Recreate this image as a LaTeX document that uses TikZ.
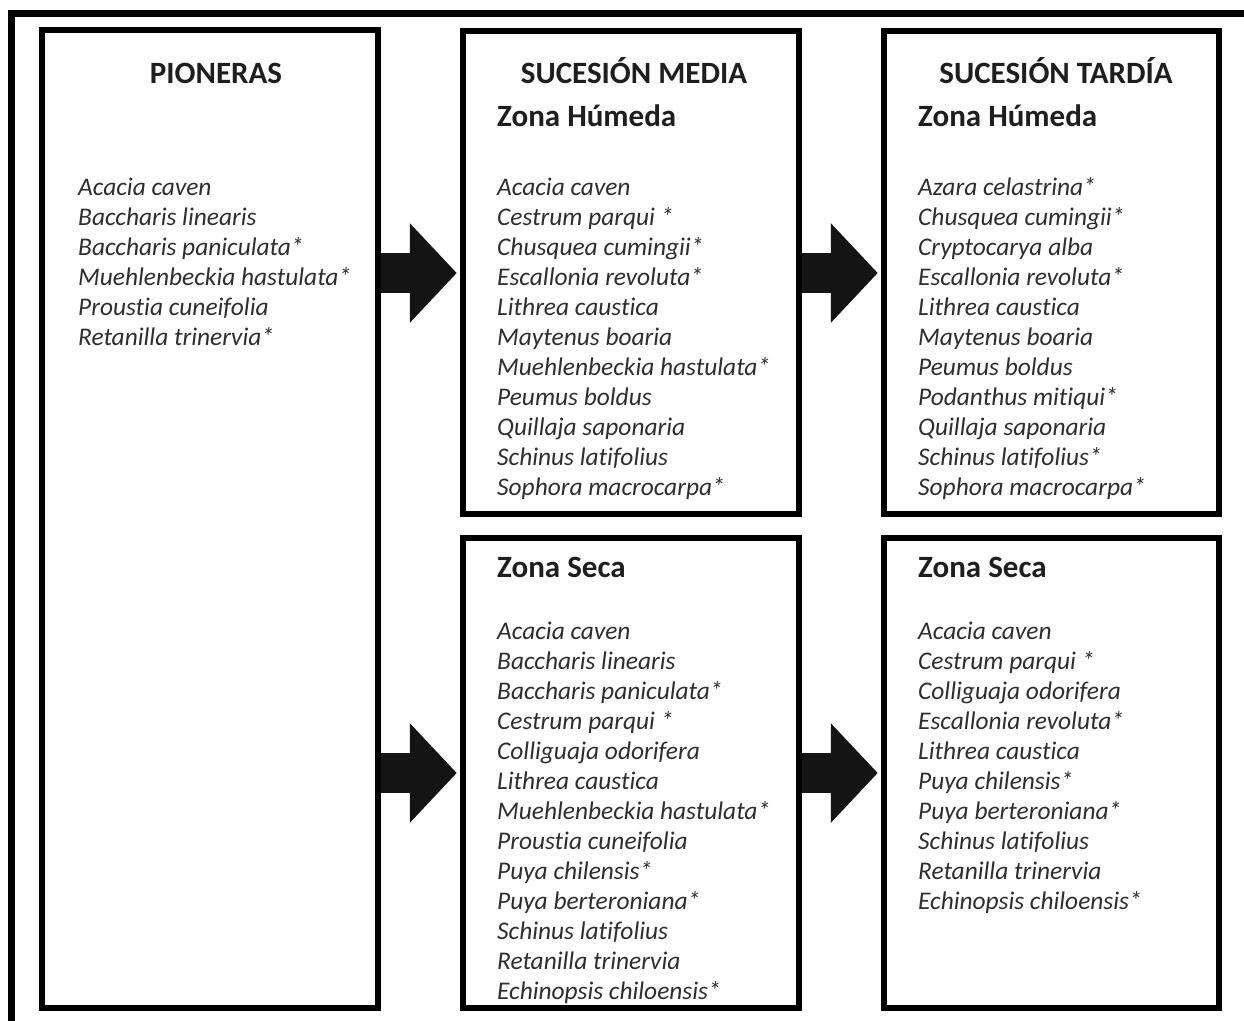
\documentclass[tikz,border=0pt]{standalone}
\usepackage{fontspec}
\setmainfont{Carlito}[Ligatures=NoCommon]
\usetikzlibrary{arrows.meta}
\definecolor{inktext}{HTML}{2E2E2E}
\definecolor{inktitle}{HTML}{1E1E1E}
\tikzset{
  box/.style={draw=black, line width=6.5bp, inner sep=0pt, fill=white},
  bigarrow/.style={line width=40bp, -{Triangle[width=97bp,length=47bp]}, draw=black!92, shorten >=3bp},
  titletext/.style={inner sep=0pt, text=inktitle, font=\bfseries\fontsize{31bp}{36bp}\selectfont},
  listtext/.style={inner sep=0pt, anchor=base west, text=inktext, font=\itshape\fontsize{25.4bp}{30bp}\selectfont}
}
\begin{document}
\begin{tikzpicture}[x=1bp,y=-1bp]
\useasboundingbox (0,0) rectangle (1244,1021);
\fill[white] (0,0) rectangle (1244,1021);
% outer frame (only top and left visible)
\draw[line width=7bp] (1244,13) -- (11.5,13) -- (11.5,1021);
% boxes
\node[box, minimum width=336bp, minimum height=978bp] (pio) at (210,519) {};
\node[box, minimum width=336bp, minimum height=483bp] (hum) at (631,272.5) {};
\node[box, minimum width=336bp, minimum height=470bp] (sec) at (631,773) {};
\node[box, minimum width=335bp, minimum height=483bp] (thum) at (1051.5,272.5) {};
\node[box, minimum width=335bp, minimum height=470bp] (tsec) at (1051.5,773) {};
% arrows
\coordinate (a1) at (0,273);
\coordinate (a2) at (0,773);
\draw[bigarrow] (pio.east |- a1) -- (hum.west |- a1);
\draw[bigarrow] (hum.east |- a1) -- (thum.west |- a1);
\draw[bigarrow] (pio.east |- a2) -- (sec.west |- a2);
\draw[bigarrow] (sec.east |- a2) -- (tsec.west |- a2);
% titles
\node[titletext, anchor=base] (tpio) at (216,83) {PIONERAS};
\node[titletext, anchor=base] (tmed) at (634,83) {SUCESIÓN MEDIA};
\node[titletext, anchor=base] (ttar) at (1056,83) {SUCESIÓN TARDÍA};
\node[titletext, anchor=base west] (zh1) at (497,126) {Zona Húmeda};
\node[titletext, anchor=base west] (zh2) at (918,126) {Zona Húmeda};
\node[titletext, anchor=base west] (zs1) at (497,577) {Zona Seca};
\node[titletext, anchor=base west] (zs2) at (918,577) {Zona Seca};
% species lists
\node[listtext] (lpio) at (78,195) {\begin{tabular}[t]{@{}l@{}}
Acacia caven\\ Baccharis linearis\\ Baccharis paniculata*\\ Muehlenbeckia hastulata*\\ Proustia cuneifolia\\ Retanilla trinervia*
\end{tabular}};
\node[listtext] (lhum) at (497,195) {\begin{tabular}[t]{@{}l@{}}
Acacia caven\\ Cestrum parqui *\\ Chusquea cumingii*\\ Escallonia revoluta*\\ Lithrea caustica\\ Maytenus boaria\\ Muehlenbeckia hastulata*\\ Peumus boldus\\ Quillaja saponaria\\ Schinus latifolius\\ Sophora macrocarpa*
\end{tabular}};
\node[listtext] (lthum) at (918,195) {\begin{tabular}[t]{@{}l@{}}
Azara celastrina*\\ Chusquea cumingii*\\ Cryptocarya alba\\ Escallonia revoluta*\\ Lithrea caustica\\ Maytenus boaria\\ Peumus boldus\\ Podanthus mitiqui*\\ Quillaja saponaria\\ Schinus latifolius*\\ Sophora macrocarpa*
\end{tabular}};
\node[listtext] (lsec) at (497,639) {\begin{tabular}[t]{@{}l@{}}
Acacia caven\\ Baccharis linearis\\ Baccharis paniculata*\\ Cestrum parqui *\\ Colliguaja odorifera\\ Lithrea caustica\\ Muehlenbeckia hastulata*\\ Proustia cuneifolia\\ Puya chilensis*\\ Puya berteroniana*\\ Schinus latifolius\\ Retanilla trinervia\\ Echinopsis chiloensis*
\end{tabular}};
\node[listtext] (ltsec) at (918,639) {\begin{tabular}[t]{@{}l@{}}
Acacia caven\\ Cestrum parqui *\\ Colliguaja odorifera\\ Escallonia revoluta*\\ Lithrea caustica\\ Puya chilensis*\\ Puya berteroniana*\\ Schinus latifolius\\ Retanilla trinervia\\ Echinopsis chiloensis*
\end{tabular}};
\end{tikzpicture}
\end{document}
